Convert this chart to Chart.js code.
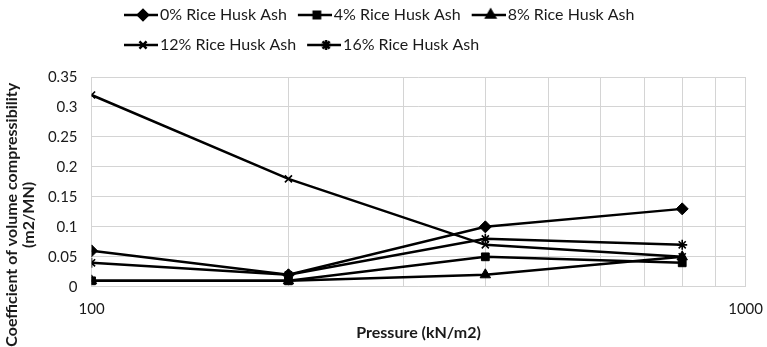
<!DOCTYPE html>
<html lang="en">
<head>
<meta charset="UTF-8">
<title>Coefficient of volume compressibility</title>
<script src="https://cdn.jsdelivr.net/npm/chart.js"></script>
<style>
    body { margin: 0; background: #fff; }
    .wrap { position: relative; width: 767px; height: 347px; }
</style>
</head>
<body>
<div class="wrap"><canvas id="chart"></canvas></div>
<script>
// values
const pressures = [100, 200, 400, 800];
const seriesNames = ['0% Rice Husk Ash', '4% Rice Husk Ash', '8% Rice Husk Ash', '12% Rice Husk Ash', '16% Rice Husk Ash'];
const rha0 = [0.06, 0.02, 0.10, 0.13];
const rha4 = [0.01, 0.01, 0.05, 0.04];
const rha8 = [0.01, 0.01, 0.02, 0.05];
const rha12 = [0.32, 0.18, 0.07, 0.05];
const rha16 = [0.04, 0.02, 0.08, 0.07];
const xGridValues = [100, 200, 300, 400, 500, 600, 700, 800, 900, 1000];
const xTickLabels = [100, 1000];

const allValues = [rha0, rha4, rha8, rha12, rha16];
const markers = ['rectRot', 'rect', 'triangle', 'crossRot', 'star'];
const markerSize = [6, 5.5, 6, 5, 5];
const markerBorder = [1, 1, 1, 1.6, 1.6];

const font = 'Lato';
const ink = '#1a1a1a';
const grid = '#d4d4d4';

// little line + marker pictures for the legend
function legendSample(i) {
    const c = document.createElement('canvas');
    c.width = 37; c.height = 16;
    const g = c.getContext('2d');
    g.strokeStyle = '#000';
    g.fillStyle = '#000';
    g.lineWidth = 2.5;
    g.beginPath();
    g.moveTo(3, 8); g.lineTo(37, 8);
    g.stroke();
    Chart.helpers.drawPoint(g, {
        pointStyle: markers[i],
        radius: i > 2 ? 5 : markerSize[i] - 1,
        borderWidth: 1,
        rotation: 0
    }, 22, 8);
    return c;
}

// place the legend as two left-aligned rows like the original
const legendPlace = {
    id: 'legendPlace',
    afterLayout(chart) {
        const lg = chart.legend;
        lg.left = 113;
        lg.right = 700;
        lg.top = -7;
        lg.bottom = 70;
        lg.width = lg.right - lg.left;
        lg.height = lg.bottom - lg.top;
    }
};

const datasets = allValues.map((vals, i) => ({
    label: seriesNames[i],
    data: pressures.map((p, k) => ({ x: p, y: vals[k] })),
    borderColor: '#000',
    backgroundColor: '#000',
    borderWidth: 2.5,
    pointStyle: markers[i],
    pointRadius: markerSize[i],
    pointBorderWidth: markerBorder[i],
    pointBackgroundColor: '#000',
    pointBorderColor: '#000',
    tension: 0
}));

const pad = '\u00a0'.repeat(17);

new Chart(document.getElementById('chart'), {
    type: 'line',
    data: { datasets: datasets },
    plugins: [legendPlace],
    options: {
        responsive: true,
        maintainAspectRatio: false,
        animation: false,
        layout: { padding: { left: 0, right: 0, top: 7, bottom: 0 } },
        plugins: {
            tooltip: { enabled: false },
            legend: {
                position: 'top',
                align: 'start',
                labels: {
                    usePointStyle: true,
                    pointStyleWidth: 25,
                    padding: 14,
                    color: ink,
                    font: { family: font, size: 16 },
                    generateLabels(chart) {
                        return chart.data.datasets.map((ds, i) => ({
                            text: ds.label,
                            pointStyle: legendSample(i),
                            fillStyle: '#000',
                            strokeStyle: '#000',
                            lineWidth: 0,
                            hidden: false,
                            datasetIndex: i,
                            fontColor: ink
                        }));
                    }
                }
            }
        },
        scales: {
            x: {
                type: 'logarithmic',
                min: 100,
                max: 1000,
                afterBuildTicks: axis => {
                    axis.ticks = xGridValues.map(v => ({ value: v, major: xTickLabels.includes(v) }));
                },
                grid: { color: grid, drawTicks: true, tickLength: 9, tickColor: 'rgba(0,0,0,0)' },
                border: { color: grid },
                ticks: {
                    autoSkip: false,
                    maxRotation: 0,
                    padding: 4,
                    color: ink,
                    font: { family: font, size: 15 },
                    callback: v => xTickLabels.includes(v) ? String(v) : ''
                },
                title: {
                    display: true,
                    text: 'Pressure (kN/m2)',
                    color: ink,
                    font: { family: font, size: 16, weight: 'bold' },
                    padding: { top: 1, bottom: 5 }
                }
            },
            y: {
                min: 0,
                max: 0.35,
                grid: { color: grid, drawTicks: false },
                border: { color: grid },
                ticks: {
                    stepSize: 0.05,
                    padding: 14,
                    color: ink,
                    font: { family: font, size: 15 },
                    callback: v => String(+v.toFixed(2))
                },
                title: {
                    display: true,
                    text: ['Coefficient of volume compressibility' + pad, '(m2/MN)' + pad],
                    color: ink,
                    font: { family: font, size: 16, weight: 'bold', lineHeight: 1.06 },
                    padding: { top: 3, bottom: -3 }
                }
            }
        }
    }
});
</script>
</body>
</html>
